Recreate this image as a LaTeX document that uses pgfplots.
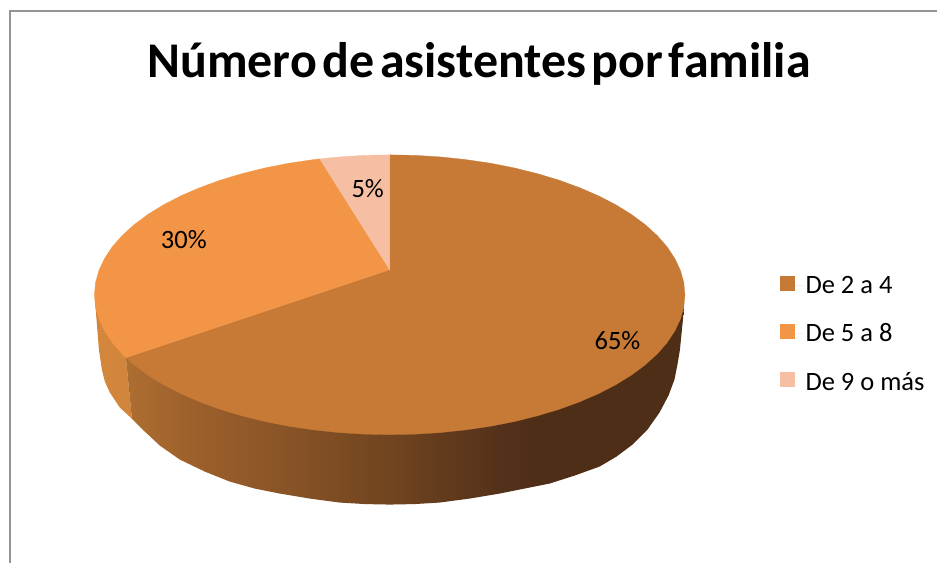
\documentclass[border=0pt]{standalone}
\usepackage{fontspec}
\setmainfont{Carlito}
\usepackage{pgfplots}
\pgfplotsset{compat=1.18}
\definecolor{cbrown}{HTML}{C77A36}
\definecolor{corange}{HTML}{F39546}
\definecolor{clight}{HTML}{F6BFA3}
\definecolor{sa}{HTML}{AE6E31}
\definecolor{sb}{HTML}{9C5F2B}
\definecolor{sc}{HTML}{8A5427}
\definecolor{sd}{HTML}{6E431E}
\definecolor{se}{HTML}{54311A}
\definecolor{sf}{HTML}{4F2E17}
\definecolor{oa}{HTML}{D4873C}
\definecolor{ob}{HTML}{CC8239}
% side of the big slice: stops sit between 25bp and 75bp, the part fitted to the path
\pgfdeclarehorizontalshading{brownside}{100bp}{color(0bp)=(sa); color(25bp)=(sa); color(31.6bp)=(sb); color(38.8bp)=(sc); color(49.5bp)=(sd); color(58.5bp)=(se); color(61.2bp)=(sf); color(100bp)=(sf)}
\pgfdeclarehorizontalshading{orangeside}{100bp}{color(0bp)=(oa); color(25bp)=(oa); color(75bp)=(ob); color(100bp)=(ob)}
\begin{document}
\begin{tikzpicture}
\begin{axis}[
    scale only axis,
    width=938pt, height=563pt,
    xmin=0, xmax=938, ymin=0, ymax=563,
    y dir=reverse,
    ticks=none,
    axis line style={draw=none},
    clip=false,
    legend image code/.code={\fill[#1, draw=none] (0pt,-5.5pt) rectangle (15pt,9.5pt); \path[draw=none] (0pt,0pt) -- (24pt,0pt);},
    legend cell align=left,
    legend style={at={(axis cs:780,274)}, anchor=north west, draw=none, fill=none,
        font=\fontsize{26.5}{30}\selectfont, row sep=25pt, inner sep=0pt},
]
% chart frame, only left and top edges show
\addplot[forget plot, color=black!42, line width=1.6pt] coordinates {(10,563) (10,11) (938,11)};

% sides
\addplot[forget plot, draw=none, shade, shading=orangeside] coordinates {
    (126,358) (132,419) (120,408) (110,393) (105,382) (102,370) (99,350) (97,325) (95,300) (200,290)
} -- cycle;
\addplot[forget plot, draw=none, shade, shading=brownside] coordinates {
    (684.4,307.2) (683.5,320) (682,335) (680.5,350) (678,365) (675,380) (669,396) (660,413)
    (648,430) (633,445) (617,457) (600,467) (575,476) (550,484) (525,489) (500,494)
    (470,499) (440,503) (415,504.5) (390,505) (365,504.5) (340,503) (310,499) (280,494)
    (255,489) (230,482) (205,472) (180,460) (160,446) (145,432) (132,419) (126,358) (390,300)
} -- cycle;

% top faces: 65, 30 and 5 percent
\addplot[draw=cbrown, line width=.3pt, fill=cbrown] coordinates {
    (390,270) (390,155) (415.8,155.5) (441.3,157.1) (466.5,159.8) (491.1,163.4) (514.9,168.1)
    (537.8,173.8) (559.5,180.3) (580,187.8) (599,196) (616.4,205) (632.1,214.7) (645.9,225)
    (657.8,235.8) (667.7,247.1) (675.4,258.8) (681,270.7) (684.4,282.8) (685.5,295)
    (684.4,307.2) (681,319.3) (675.4,331.2) (667.7,342.9) (657.8,354.2) (645.9,365)
    (632.1,375.3) (616.4,385) (599,394) (580,402.2) (559.5,409.7) (537.8,416.2) (514.9,421.9)
    (491.1,426.6) (466.5,430.2) (441.3,432.9) (415.8,434.5) (390,435) (364.2,434.5)
    (338.7,432.9) (313.5,430.2) (288.9,426.6) (265.1,421.9) (242.2,416.2) (220.5,409.7)
    (200,402.2) (181,394) (163.6,385) (147.9,375.3) (134.1,365) (126,358)
} -- cycle;
\addlegendentry{De 2 a 4}
\addplot[draw=corange, line width=.3pt, fill=corange] coordinates {
    (390,270) (126,358) (122.2,354.2) (112.3,342.9) (104.6,331.2) (99,319.3) (95.6,307.2)
    (94.5,295) (95.6,282.8) (99,270.7) (104.6,258.8) (112.3,247.1) (122.2,235.8) (134.1,225)
    (147.9,214.7) (163.6,205) (181,196) (200,187.8) (220.5,180.3) (242.2,173.8) (265.1,168.1)
    (288.9,163.4) (313.5,159.8) (320,159)
} -- cycle;
\addlegendentry{De 5 a 8}
\addplot[draw=clight, line width=.3pt, fill=clight] coordinates {
    (390,270) (320,159) (338.7,157.1) (364.2,155.5) (390,155)
} -- cycle;
\addlegendentry{De 9 o más}

\node[anchor=base, font=\fontsize{26.5}{30}\selectfont] at (axis cs:368,198) {5\%};
\node[anchor=base, font=\fontsize{26.5}{30}\selectfont] at (axis cs:184,248.5) {30\%};
\node[anchor=base, font=\fontsize{26.5}{30}\selectfont] at (axis cs:618,349.5) {65\%};
\node[anchor=base, font=\fontsize{50}{58}\selectfont\bfseries] at (axis cs:479.5,77.5)
    {\spaceskip=5.6pt Número de asistentes por familia};
\end{axis}
\end{tikzpicture}
\end{document}
